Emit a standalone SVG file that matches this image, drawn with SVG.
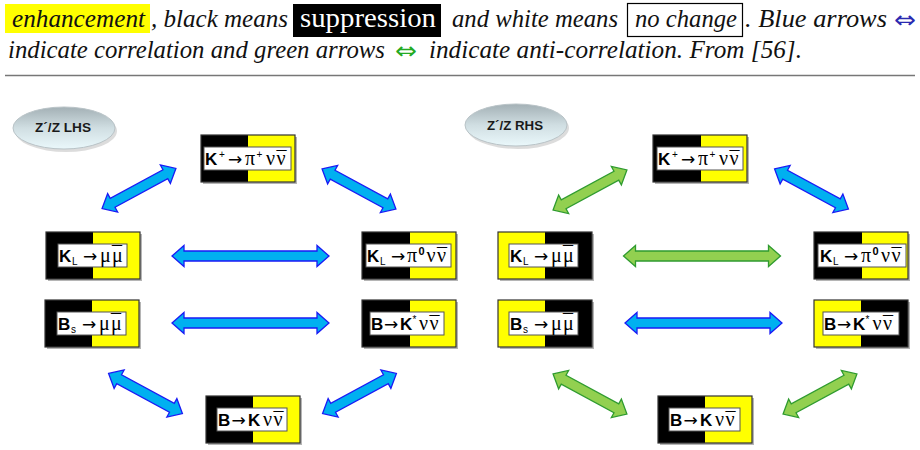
<svg xmlns="http://www.w3.org/2000/svg" width="920" height="450" viewBox="0 0 920 450">
<style>
.cap{font-family:"Liberation Serif","Times New Roman",serif}
.it{font-style:italic;font-size:24.5px;fill:#111}
.rm{font-size:27px;fill:#fff}
.sym{font-family:"DejaVu Sans",sans-serif;font-size:24px}
.bk{fill:#000}
.ye{fill:#ffff00}
.bd{fill:none;stroke:#333;stroke-width:1.2}
.sh{fill:#b5b5b5}
.lb{fill:#fff;stroke:#555;stroke-width:1}
.t{font-family:"Liberation Serif","Times New Roman",serif;font-size:18px;fill:#000}
.g{font-size:20px}
.ar{font-family:"DejaVu Sans",sans-serif;font-size:17px}
.k{font-family:"Liberation Sans",Arial,sans-serif;font-weight:bold;font-size:17px}
.s{font-family:"Liberation Sans",Arial,sans-serif;font-size:10px}
.sb{font-family:"Liberation Sans",Arial,sans-serif;font-size:11px;font-weight:bold}
.blue{fill:#00b0f0;stroke:#1a1af5;stroke-width:1.3;stroke-linejoin:miter}
.green{fill:#92d050;stroke:#2f9b2f;stroke-width:1.3;stroke-linejoin:miter}
.ov{font-family:"Liberation Sans",Arial,sans-serif;font-weight:bold;font-size:13px;fill:#1a1a1a}
</style>
<defs>
<linearGradient id="eg" x1="0" y1="0" x2="0" y2="1">
<stop offset="0" stop-color="#a3b0b5"/>
<stop offset="0.5" stop-color="#d0dee2"/>
<stop offset="1" stop-color="#eaf8fb"/>
</linearGradient>
<path id="ah" d="M-78.5 0 L-66.5 -10.5 L-66.5 -5 L66.5 -5 L66.5 -10.5 L78.5 0 L66.5 10.5 L66.5 5 L-66.5 5 L-66.5 10.5 Z"/>
<path id="ad" d="M-42 0 L-30 -10.5 L-30 -5 L30 -5 L30 -10.5 L42 0 L30 10.5 L30 5 L-30 5 L-30 10.5 Z"/>
</defs>
<rect width="920" height="450" fill="#fff"/>

<g id="caption" class="cap">
<rect x="5" y="4" width="145" height="29" fill="#ffff00"/>
<text class="it" x="12" y="27" textLength="133" lengthAdjust="spacingAndGlyphs">enhancement</text>
<text class="it" x="151" y="27" textLength="137" lengthAdjust="spacingAndGlyphs">, black means</text>
<rect x="293" y="4" width="148" height="33" fill="#000"/>
<text class="rm" x="300" y="27" textLength="136" lengthAdjust="spacingAndGlyphs">suppression</text>
<text class="it" x="452" y="27" textLength="166" lengthAdjust="spacingAndGlyphs">and white means</text>
<rect x="627.5" y="3.5" width="115" height="33" fill="none" stroke="#000" stroke-width="1.2"/>
<text class="it" x="635" y="27" textLength="102" lengthAdjust="spacingAndGlyphs">no change</text>
<text class="it" x="745" y="27" textLength="142" lengthAdjust="spacingAndGlyphs">. Blue arrows</text>
<text class="sym" x="894" y="28" fill="#2a2ab0" textLength="22" lengthAdjust="spacingAndGlyphs">⇔</text>
<text class="it" x="8" y="58" textLength="377" lengthAdjust="spacingAndGlyphs">indicate correlation and green arrows</text>
<text class="sym" x="395" y="59" fill="#22aa22" textLength="22" lengthAdjust="spacingAndGlyphs">⇔</text>
<text class="it" x="429" y="58" textLength="373" lengthAdjust="spacingAndGlyphs">indicate anti-correlation. From [56].</text>
<line x1="5" y1="75.5" x2="915" y2="75.5" stroke="#777" stroke-width="1.6"/>
</g>

<g id="connectors">
<use href="#ah" class="blue" transform="translate(250.5 256)"/>
<use href="#ah" class="blue" transform="translate(250.5 323)"/>
<use href="#ad" class="blue" transform="translate(139 188.5) rotate(-28.5)"/>
<use href="#ad" class="blue" transform="translate(359 189) rotate(28.5)"/>
<use href="#ad" class="blue" transform="translate(145.5 393.5) rotate(28.5)"/>
<use href="#ad" class="blue" transform="translate(359.5 393.5) rotate(-28.5)"/>
<use href="#ah" class="green" transform="translate(702 256)"/>
<use href="#ah" class="blue" transform="translate(703.5 323)"/>
<use href="#ad" class="green" transform="translate(590 190) rotate(-28.5)"/>
<use href="#ad" class="blue" transform="translate(811.5 189) rotate(28.5)"/>
<use href="#ad" class="green" transform="translate(590 394) rotate(28.5)"/>
<use href="#ad" class="green" transform="translate(820 394) rotate(-28.5)"/>
</g>

<g id="lhs-label">
<ellipse cx="66" cy="131" rx="51" ry="21" fill="#c4c4c4" opacity="0.6"/>
<ellipse cx="64" cy="128" rx="51" ry="21" fill="url(#eg)" stroke="#b9c3c7" stroke-width="1"/>
<text class="ov" x="35" y="132" textLength="56" lengthAdjust="spacingAndGlyphs">Z´/Z LHS</text>
</g>
<g id="rhs-label">
<ellipse cx="518" cy="128" rx="51" ry="21" fill="#c4c4c4" opacity="0.6"/>
<ellipse cx="516" cy="125" rx="51" ry="21" fill="url(#eg)" stroke="#b9c3c7" stroke-width="1"/>
<text class="ov" x="487" y="130" textLength="56" lengthAdjust="spacingAndGlyphs">Z´/Z RHS</text>
</g>

<!-- LHS nodes -->
<g id="l-kplus">
<rect class="sh" x="203" y="137" width="94" height="47"/>
<rect class="bk" x="201" y="135" width="47" height="47"/>
<rect class="ye" x="248" y="135" width="47" height="47"/>
<rect class="bd" x="201" y="135" width="94" height="47"/>
<rect class="lb" x="204" y="147" width="87" height="23"/>
<text class="t" y="165"><tspan class="k" x="205">K</tspan><tspan class="s" x="219" dy="-7">+</tspan><tspan class="ar" x="228" dy="7">→</tspan><tspan class="g" x="245">π</tspan><tspan class="s" x="256.5" dy="-7">+</tspan><tspan class="g" x="266" dy="7">ν</tspan><tspan class="g" x="276.5">ν</tspan><tspan class="g" x="276.5" dy="1">¯</tspan></text>
</g>
<g id="l-kl-mumu">
<rect class="sh" x="48" y="234" width="94" height="47"/>
<rect class="bk" x="46" y="232" width="47" height="47"/>
<rect class="ye" x="93" y="232" width="47" height="47"/>
<rect class="bd" x="46" y="232" width="94" height="47"/>
<rect class="lb" x="58" y="244" width="69" height="23"/>
<text class="t" y="262"><tspan class="k" x="59">K</tspan><tspan class="s" x="72" dy="3">L</tspan><tspan class="ar" x="83" dy="-3">→</tspan><tspan class="g" x="100">μ</tspan><tspan class="g" x="112">μ</tspan><tspan class="g" x="112" dy="-1">¯</tspan></text>
</g>
<g id="l-kl-pi0">
<rect class="sh" x="364" y="234" width="94" height="47"/>
<rect class="bk" x="362" y="232" width="48" height="47"/>
<rect class="ye" x="410" y="232" width="46" height="47"/>
<rect class="bd" x="362" y="232" width="94" height="47"/>
<rect class="lb" x="366" y="244" width="85" height="23"/>
<text class="t" y="262"><tspan class="k" x="367">K</tspan><tspan class="s" x="380" dy="3">L</tspan><tspan class="ar" x="391" dy="-3">→</tspan><tspan class="g" x="407">π</tspan><tspan class="sb" x="418.5" dy="-7">0</tspan><tspan class="g" x="426.5" dy="7">ν</tspan><tspan class="g" x="437">ν</tspan><tspan class="g" x="437" dy="1">¯</tspan></text>
</g>
<g id="l-bs-mumu">
<rect class="sh" x="47" y="302" width="94" height="47"/>
<rect class="bk" x="45" y="300" width="47" height="47"/>
<rect class="ye" x="92" y="300" width="47" height="47"/>
<rect class="bd" x="45" y="300" width="94" height="47"/>
<rect class="lb" x="57" y="312" width="69" height="23"/>
<text class="t" y="330"><tspan class="k" x="58">B</tspan><tspan class="s" x="71" dy="3">s</tspan><tspan class="ar" x="82" dy="-3">→</tspan><tspan class="g" x="99">μ</tspan><tspan class="g" x="111">μ</tspan><tspan class="g" x="111" dy="-1">¯</tspan></text>
</g>
<g id="l-b-kstar">
<rect class="sh" x="364" y="302" width="94" height="47"/>
<rect class="bk" x="362" y="300" width="48" height="47"/>
<rect class="ye" x="410" y="300" width="46" height="47"/>
<rect class="bd" x="362" y="300" width="94" height="47"/>
<rect class="lb" x="370" y="312" width="74" height="23"/>
<text class="t" y="330"><tspan class="k" x="371">B</tspan><tspan class="ar" x="384">→</tspan><tspan class="k" x="400">K</tspan><tspan class="s" x="412.5" dy="-7">*</tspan><tspan class="g" x="419" dy="7">ν</tspan><tspan class="g" x="429.5">ν</tspan><tspan class="g" x="429.5" dy="1">¯</tspan></text>
</g>
<g id="l-b-knunu">
<rect class="sh" x="208" y="398" width="94" height="47"/>
<rect class="bk" x="206" y="396" width="47" height="47"/>
<rect class="ye" x="253" y="396" width="47" height="47"/>
<rect class="bd" x="206" y="396" width="94" height="47"/>
<rect class="lb" x="217" y="408" width="70" height="23"/>
<text class="t" y="426"><tspan class="k" x="218">B</tspan><tspan class="ar" x="231.5">→</tspan><tspan class="k" x="248">K</tspan><tspan class="g" x="263">ν</tspan><tspan class="g" x="273.5">ν</tspan><tspan class="g" x="273.5" dy="1">¯</tspan></text>
</g>

<!-- RHS nodes -->
<g id="r-kplus">
<rect class="sh" x="655" y="137" width="94" height="47"/>
<rect class="bk" x="653" y="135" width="48" height="47"/>
<rect class="ye" x="701" y="135" width="46" height="47"/>
<rect class="bd" x="653" y="135" width="94" height="47"/>
<rect class="lb" x="657" y="147" width="86" height="23"/>
<text class="t" y="165"><tspan class="k" x="658">K</tspan><tspan class="s" x="672" dy="-7">+</tspan><tspan class="ar" x="681" dy="7">→</tspan><tspan class="g" x="698">π</tspan><tspan class="s" x="709.5" dy="-7">+</tspan><tspan class="g" x="719" dy="7">ν</tspan><tspan class="g" x="729.5">ν</tspan><tspan class="g" x="729.5" dy="1">¯</tspan></text>
</g>
<g id="r-kl-mumu">
<rect class="sh" x="500" y="234" width="94" height="47"/>
<rect class="ye" x="498" y="232" width="47" height="47"/>
<rect class="bk" x="545" y="232" width="47" height="47"/>
<rect class="bd" x="498" y="232" width="94" height="47"/>
<rect class="lb" x="509" y="244" width="69" height="23"/>
<text class="t" y="262"><tspan class="k" x="510">K</tspan><tspan class="s" x="523" dy="3">L</tspan><tspan class="ar" x="534" dy="-3">→</tspan><tspan class="g" x="551">μ</tspan><tspan class="g" x="563">μ</tspan><tspan class="g" x="563" dy="-1">¯</tspan></text>
</g>
<g id="r-kl-pi0">
<rect class="sh" x="816" y="234" width="94" height="47"/>
<rect class="bk" x="814" y="232" width="48" height="47"/>
<rect class="ye" x="862" y="232" width="46" height="47"/>
<rect class="bd" x="814" y="232" width="94" height="47"/>
<rect class="lb" x="818" y="244" width="88" height="23"/>
<text class="t" y="262"><tspan class="k" x="820">K</tspan><tspan class="s" x="833" dy="3">L</tspan><tspan class="ar" x="844" dy="-3">→</tspan><tspan class="g" x="861">π</tspan><tspan class="sb" x="872.5" dy="-7">0</tspan><tspan class="g" x="881" dy="7">ν</tspan><tspan class="g" x="891.5">ν</tspan><tspan class="g" x="891.5" dy="1">¯</tspan></text>
</g>
<g id="r-bs-mumu">
<rect class="sh" x="500" y="302" width="94" height="47"/>
<rect class="ye" x="498" y="300" width="47" height="47"/>
<rect class="bk" x="545" y="300" width="47" height="47"/>
<rect class="bd" x="498" y="300" width="94" height="47"/>
<rect class="lb" x="509" y="312" width="69" height="23"/>
<text class="t" y="330"><tspan class="k" x="510">B</tspan><tspan class="s" x="523" dy="3">s</tspan><tspan class="ar" x="534" dy="-3">→</tspan><tspan class="g" x="551">μ</tspan><tspan class="g" x="563">μ</tspan><tspan class="g" x="563" dy="-1">¯</tspan></text>
</g>
<g id="r-b-kstar">
<rect class="sh" x="816" y="302" width="94" height="47"/>
<rect class="ye" x="814" y="300" width="47" height="47"/>
<rect class="bk" x="861" y="300" width="47" height="47"/>
<rect class="bd" x="814" y="300" width="94" height="47"/>
<rect class="lb" x="823" y="312" width="76" height="23"/>
<text class="t" y="330"><tspan class="k" x="824">B</tspan><tspan class="ar" x="837">→</tspan><tspan class="k" x="853">K</tspan><tspan class="s" x="865.5" dy="-7">*</tspan><tspan class="g" x="872.5" dy="7">ν</tspan><tspan class="g" x="883">ν</tspan><tspan class="g" x="883" dy="1">¯</tspan></text>
</g>
<g id="r-b-knunu">
<rect class="sh" x="660" y="398" width="94" height="47"/>
<rect class="bk" x="658" y="396" width="47" height="47"/>
<rect class="ye" x="705" y="396" width="47" height="47"/>
<rect class="bd" x="658" y="396" width="94" height="47"/>
<rect class="lb" x="669" y="408" width="71" height="23"/>
<text class="t" y="426"><tspan class="k" x="670">B</tspan><tspan class="ar" x="683.5">→</tspan><tspan class="k" x="700">K</tspan><tspan class="g" x="715">ν</tspan><tspan class="g" x="725.5">ν</tspan><tspan class="g" x="725.5" dy="1">¯</tspan></text>
</g>
</svg>
